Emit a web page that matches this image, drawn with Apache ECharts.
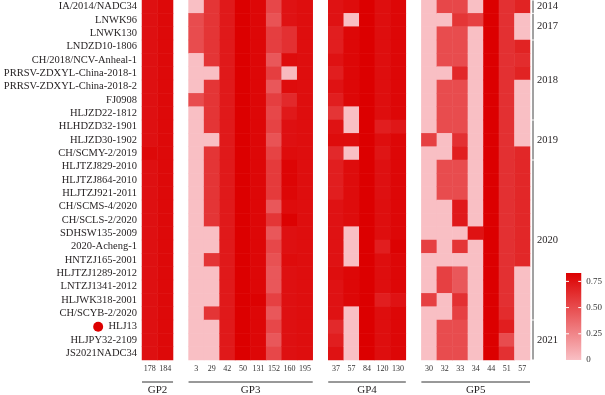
<!DOCTYPE html>
<html>
<head>
<meta charset="utf-8">
<script src="https://cdn.jsdelivr.net/npm/echarts@6/dist/echarts.min.js"></script>
<style>
    html, body { margin: 0; padding: 0; background: #fff; }
    #main { width: 605px; height: 395px; }
</style>
</head>
<body>
<div id="main"></div>
<script>
'use strict';
// 毒株名称（从上到下）
var strains = ['IA/2014/NADC34', 'LNWK96', 'LNWK130', 'LNDZD10-1806', 'CH/2018/NCV-Anheal-1',
    'PRRSV-ZDXYL-China-2018-1', 'PRRSV-ZDXYL-China-2018-2', 'FJ0908', 'HLJZD22-1812',
    'HLHDZD32-1901', 'HLJZD30-1902', 'CH/SCMY-2/2019', 'HLJTZJ829-2010', 'HLJTZJ864-2010',
    'HLJTZJ921-2011', 'CH/SCMS-4/2020', 'CH/SCLS-2/2020', 'SDHSW135-2009', '2020-Acheng-1',
    'HNTZJ165-2001', 'HLJTZJ1289-2012', 'LNTZJ1341-2012', 'HLJWK318-2001', 'CH/SCYB-2/2020',
    'HLJ13', 'HLJPY32-2109', 'JS2021NADC34'];
var markedStrain = 'HLJ13';

// 年份分组（起始行、结束行）
var years = ['2014', '2017', '2018', '2019', '2020', '2021'];
var yearStart = [0, 1, 3, 9, 12, 24];
var yearEnd = [0, 2, 8, 11, 23, 26];

// 各蛋白位点
var gp2Sites = ['178', '184'];
var gp3Sites = ['3', '29', '42', '50', '131', '152', '160', '195'];
var gp4Sites = ['37', '57', '84', '120', '130'];
var gp5Sites = ['30', '32', '33', '34', '44', '51', '57'];

var gp2Values = [
    [0.76, 0.79], [0.76, 0.79], [0.76, 0.79], [0.76, 0.79], [0.76, 0.79], [0.76, 0.79],
    [0.76, 0.79], [0.76, 0.79], [0.76, 0.79], [0.76, 0.79], [0.76, 0.79], [0.79, 0.79],
    [0.76, 0.79], [0.76, 0.79], [0.76, 0.79], [0.76, 0.79], [0.76, 0.79], [0.76, 0.79],
    [0.76, 0.79], [0.76, 0.79], [0.76, 0.79], [0.76, 0.79], [0.76, 0.79], [0.76, 0.79],
    [0.76, 0.79], [0.76, 0.79], [0.76, 0.79]
];
var gp3Values = [
    [0, 0.6, 0.72, 0.83, 0.8, 0.52, 0.75, 0.77],
    [0.5, 0.6, 0.72, 0.83, 0.8, 0.47, 0.75, 0.77],
    [0.5, 0.6, 0.72, 0.83, 0.8, 0.56, 0.62, 0.77],
    [0.5, 0.6, 0.72, 0.83, 0.8, 0.56, 0.62, 0.77],
    [0, 0.6, 0.72, 0.83, 0.8, 0.45, 0.78, 0.77],
    [0, 0, 0.72, 0.83, 0.8, 0.56, 0.02, 0.77],
    [0, 0.6, 0.72, 0.83, 0.8, 0.45, 0.78, 0.77],
    [0.5, 0.6, 0.72, 0.83, 0.8, 0.56, 0.65, 0.77],
    [0, 0.6, 0.72, 0.83, 0.8, 0.52, 0.72, 0.77],
    [0, 0.6, 0.72, 0.83, 0.8, 0.54, 0.76, 0.77],
    [0, 0, 0.72, 0.83, 0.8, 0.47, 0.76, 0.77],
    [0, 0.6, 0.72, 0.83, 0.8, 0.54, 0.78, 0.77],
    [0, 0.6, 0.72, 0.83, 0.8, 0.58, 0.81, 0.77],
    [0, 0.6, 0.72, 0.83, 0.8, 0.58, 0.81, 0.77],
    [0, 0.6, 0.72, 0.83, 0.8, 0.58, 0.8, 0.77],
    [0, 0.6, 0.72, 0.83, 0.8, 0.45, 0.78, 0.77],
    [0, 0.6, 0.72, 0.83, 0.8, 0.6, 0.82, 0.77],
    [0, 0, 0.72, 0.83, 0.8, 0.45, 0.76, 0.77],
    [0, 0, 0.72, 0.83, 0.8, 0.52, 0.76, 0.77],
    [0, 0.6, 0.72, 0.83, 0.8, 0.48, 0.78, 0.77],
    [0, 0, 0.72, 0.83, 0.8, 0.45, 0.76, 0.77],
    [0, 0, 0.72, 0.83, 0.8, 0.45, 0.76, 0.77],
    [0, 0, 0.72, 0.83, 0.82, 0.55, 0.76, 0.77],
    [0, 0.6, 0.72, 0.83, 0.8, 0.45, 0.76, 0.77],
    [0, 0, 0.72, 0.83, 0.8, 0.52, 0.76, 0.77],
    [0, 0, 0.72, 0.83, 0.8, 0.45, 0.76, 0.77],
    [0, 0, 0.72, 0.83, 0.8, 0.52, 0.76, 0.77]
];
var gp4Values = [
    [0.75, 0.78, 0.83, 0.77, 0.8],
    [0.75, 0, 0.83, 0.77, 0.8],
    [0.7, 0.8, 0.83, 0.77, 0.8],
    [0.7, 0.8, 0.83, 0.77, 0.8],
    [0.75, 0.8, 0.83, 0.77, 0.8],
    [0.7, 0.8, 0.83, 0.77, 0.8],
    [0.75, 0.8, 0.83, 0.77, 0.8],
    [0.7, 0.8, 0.83, 0.77, 0.8],
    [0.6, 0, 0.83, 0.77, 0.8],
    [0.75, 0, 0.83, 0.7, 0.73],
    [0.78, 0.78, 0.83, 0.77, 0.8],
    [0.65, 0, 0.83, 0.74, 0.8],
    [0.7, 0.78, 0.83, 0.76, 0.8],
    [0.7, 0.78, 0.83, 0.76, 0.8],
    [0.7, 0.78, 0.83, 0.76, 0.8],
    [0.75, 0.78, 0.83, 0.77, 0.8],
    [0.75, 0.78, 0.83, 0.77, 0.8],
    [0.75, 0, 0.83, 0.77, 0.8],
    [0.75, 0, 0.83, 0.7, 0.82],
    [0.75, 0, 0.83, 0.77, 0.8],
    [0.77, 0.8, 0.83, 0.77, 0.8],
    [0.75, 0.8, 0.83, 0.77, 0.8],
    [0.75, 0.8, 0.83, 0.7, 0.75],
    [0.75, 0, 0.83, 0.77, 0.8],
    [0.65, 0, 0.83, 0.77, 0.8],
    [0.7, 0, 0.83, 0.77, 0.8],
    [0.75, 0, 0.83, 0.77, 0.8]
];
var gp5Values = [
    [0, 0.52, 0.52, 0, 0.83, 0.62, 0.68],
    [0, 0, 0.6, 0.55, 0.83, 0.62, 0],
    [0, 0.5, 0.5, 0, 0.83, 0.62, 0],
    [0, 0.5, 0.5, 0, 0.83, 0.62, 0.68],
    [0, 0.5, 0.5, 0, 0.83, 0.62, 0.64],
    [0, 0, 0.66, 0, 0.83, 0.62, 0.68],
    [0, 0.5, 0.5, 0, 0.83, 0.62, 0],
    [0, 0.5, 0.5, 0, 0.83, 0.62, 0],
    [0, 0.5, 0.5, 0, 0.83, 0.62, 0],
    [0, 0.5, 0.5, 0, 0.83, 0.62, 0],
    [0.55, 0, 0.62, 0, 0.83, 0.62, 0],
    [0, 0, 0.7, 0, 0.83, 0.62, 0.66],
    [0, 0.5, 0.5, 0, 0.83, 0.62, 0.66],
    [0, 0.5, 0.5, 0, 0.83, 0.62, 0.66],
    [0, 0.5, 0.5, 0, 0.83, 0.62, 0.66],
    [0, 0, 0.72, 0, 0.83, 0.62, 0.66],
    [0, 0, 0.72, 0, 0.83, 0.62, 0.66],
    [0, 0, 0, 0.75, 0.83, 0.62, 0.66],
    [0.55, 0, 0.6, 0, 0.83, 0.62, 0.66],
    [0, 0, 0, 0, 0.83, 0.62, 0.66],
    [0, 0.55, 0.45, 0, 0.83, 0.62, 0],
    [0, 0.55, 0.45, 0, 0.83, 0.62, 0],
    [0.55, 0, 0.62, 0, 0.83, 0.62, 0],
    [0, 0, 0.55, 0, 0.83, 0.64, 0],
    [0, 0.5, 0.5, 0, 0.83, 0.7, 0],
    [0, 0.5, 0.5, 0, 0.83, 0.5, 0],
    [0, 0.5, 0.5, 0, 0.83, 0.62, 0]
];

// 色标范围和刻度
var scaleMin = 0;
var scaleMax = 0.83;
var scaleTicks = [0, 0.25, 0.5, 0.75];

var lowColor = '#F9BFC4';
var highColor = '#DC0000';
var serif = "'Liberation Serif', 'DejaVu Serif', serif";

var groups = [
    { name: 'GP2', sites: gp2Sites, values: gp2Values },
    { name: 'GP3', sites: gp3Sites, values: gp3Values },
    { name: 'GP4', sites: gp4Sites, values: gp4Values },
    { name: 'GP5', sites: gp5Sites, values: gp5Values }
];

// 拼出x轴类目（组与组之间空一列）和热力图数据
var xCats = [];
var xLabels = [];
var cells = [];
var groupSpans = [];
groups.forEach(function (g, gi) {
    var start = xCats.length;
    g.sites.forEach(function (site, si) {
        var col = xCats.length;
        xCats.push(g.name + '-' + site);
        xLabels.push(site);
        for (var r = 0; r < strains.length; r++) {
            cells.push([col, r, g.values[r][si]]);
        }
    });
    groupSpans.push([start, xCats.length - 1, 0]);
    if (gi < groups.length - 1) {
        xCats.push('gap' + gi);
        xLabels.push('');
    }
});

var yearSpans = years.map(function (y, i) {
    return [xCats.length - 1, yearStart[i], yearEnd[i]];
});

var chart = echarts.init(document.getElementById('main'));

var option = {
    animation: false,
    backgroundColor: '#fff',
    grid: [
        { left: 142, right: 75, top: 0, height: 360 },
        { left: 566, top: 273, width: 16, height: 87 }
    ],
    xAxis: [{
        type: 'category',
        gridIndex: 0,
        data: xCats,
        axisLine: { show: false },
        axisTick: { show: false },
        axisLabel: {
            interval: 0,
            margin: 5,
            fontFamily: serif,
            fontSize: 8,
            color: '#333',
            formatter: function (v, idx) {
                return xLabels[idx];
            }
        }
    }, {
        type: 'category',
        gridIndex: 1,
        data: [''],
        show: false
    }],
    yAxis: [{
        type: 'category',
        gridIndex: 0,
        inverse: true,
        data: strains,
        axisLine: { show: false },
        axisTick: { show: false },
        axisLabel: {
            interval: 0,
            margin: 5,
            fontFamily: serif,
            fontSize: 10.5,
            color: '#231F20',
            formatter: function (v) {
                if (v === markedStrain) {
                    return '{dot|}  ' + v;
                }
                return v;
            },
            rich: {
                dot: {
                    width: 10,
                    height: 10,
                    borderRadius: 5,
                    backgroundColor: '#DD0000'
                }
            }
        }
    }, {
        // 色标刻度文字
        type: 'value',
        gridIndex: 1,
        position: 'right',
        min: scaleMin,
        max: scaleMax,
        interval: 0.25,
        splitLine: { show: false },
        axisLine: { show: false },
        axisTick: { show: false },
        axisLabel: {
            margin: 5,
            fontFamily: serif,
            fontSize: 9,
            color: '#333',
            showMaxLabel: false,
            formatter: function (v) {
                if (scaleTicks.indexOf(v) < 0) return '';
                return v === 0 ? '0' : v.toFixed(2);
            }
        }
    }],
    visualMap: {
        show: false,
        seriesIndex: 0,
        dimension: 2,
        min: scaleMin,
        max: scaleMax,
        inRange: { color: [lowColor, highColor] }
    },
    series: [{
        type: 'heatmap',
        xAxisIndex: 0,
        yAxisIndex: 0,
        data: cells,
        itemStyle: { borderWidth: 0 },
        emphasis: { disabled: true }
    }, {
        // 右侧年份分组线
        type: 'custom',
        xAxisIndex: 0,
        yAxisIndex: 0,
        silent: true,
        clip: false,
        data: yearSpans,
        renderItem: function (params, api) {
            var size = api.size([1, 1]);
            var top = api.coord([api.value(0), api.value(1)]);
            var bottom = api.coord([api.value(0), api.value(2)]);
            var x = top[0] + size[0] / 2 + 3;
            var y1 = top[1] - size[1] / 2 + 0.5;
            var y2 = bottom[1] + size[1] / 2 - 0.5;
            return {
                type: 'group',
                children: [{
                    type: 'line',
                    shape: { x1: x, y1: y1, x2: x, y2: y2 },
                    style: { stroke: '#444', lineWidth: 1 }
                }, {
                    type: 'text',
                    style: {
                        x: x + 4,
                        y: (y1 + y2) / 2,
                        text: years[params.dataIndex],
                        fontFamily: serif,
                        fontSize: 10.5,
                        fill: '#231F20',
                        verticalAlign: 'middle',
                        align: 'left'
                    }
                }]
            };
        }
    }, {
        // 底部蛋白分组线
        type: 'custom',
        xAxisIndex: 0,
        yAxisIndex: 0,
        silent: true,
        clip: false,
        data: groupSpans,
        renderItem: function (params, api) {
            var size = api.size([1, 1]);
            var last = strains.length - 1;
            var p1 = api.coord([api.value(0), last]);
            var p2 = api.coord([api.value(1), last]);
            var x1 = p1[0] - size[0] / 2;
            var x2 = p2[0] + size[0] / 2;
            var y = p1[1] + size[1] / 2 + 22;
            return {
                type: 'group',
                children: [{
                    type: 'line',
                    shape: { x1: x1, y1: y, x2: x2, y2: y },
                    style: { stroke: '#333', lineWidth: 1 }
                }, {
                    type: 'text',
                    style: {
                        x: (x1 + x2) / 2,
                        y: y + 3,
                        text: groups[params.dataIndex].name,
                        fontFamily: serif,
                        fontSize: 11,
                        fill: '#231F20',
                        verticalAlign: 'top',
                        align: 'center'
                    }
                }]
            };
        }
    }, {
        // 色标条，带白色小刻度
        type: 'custom',
        xAxisIndex: 1,
        yAxisIndex: 1,
        silent: true,
        data: [[0, scaleMax]],
        renderItem: function (params, api) {
            var topPt = api.coord([0, scaleMax]);
            var basePt = api.coord([0, scaleMin]);
            var w = api.size([1, 0])[0];
            var left = basePt[0] - w / 2;
            var children = [{
                type: 'rect',
                shape: { x: left, y: topPt[1], width: w, height: basePt[1] - topPt[1] },
                style: {
                    fill: new echarts.graphic.LinearGradient(0, 0, 0, 1, [
                        { offset: 0, color: highColor },
                        { offset: 1, color: lowColor }
                    ])
                }
            }];
            scaleTicks.forEach(function (t) {
                if (t <= scaleMin) return;
                var ty = api.coord([0, t])[1];
                children.push({
                    type: 'line',
                    shape: { x1: left, y1: ty, x2: left + 3, y2: ty },
                    style: { stroke: '#fff', lineWidth: 1 }
                });
                children.push({
                    type: 'line',
                    shape: { x1: left + w - 3, y1: ty, x2: left + w, y2: ty },
                    style: { stroke: '#fff', lineWidth: 1 }
                });
            });
            return { type: 'group', children: children };
        }
    }]
};

chart.setOption(option);
</script>
</body>
</html>
